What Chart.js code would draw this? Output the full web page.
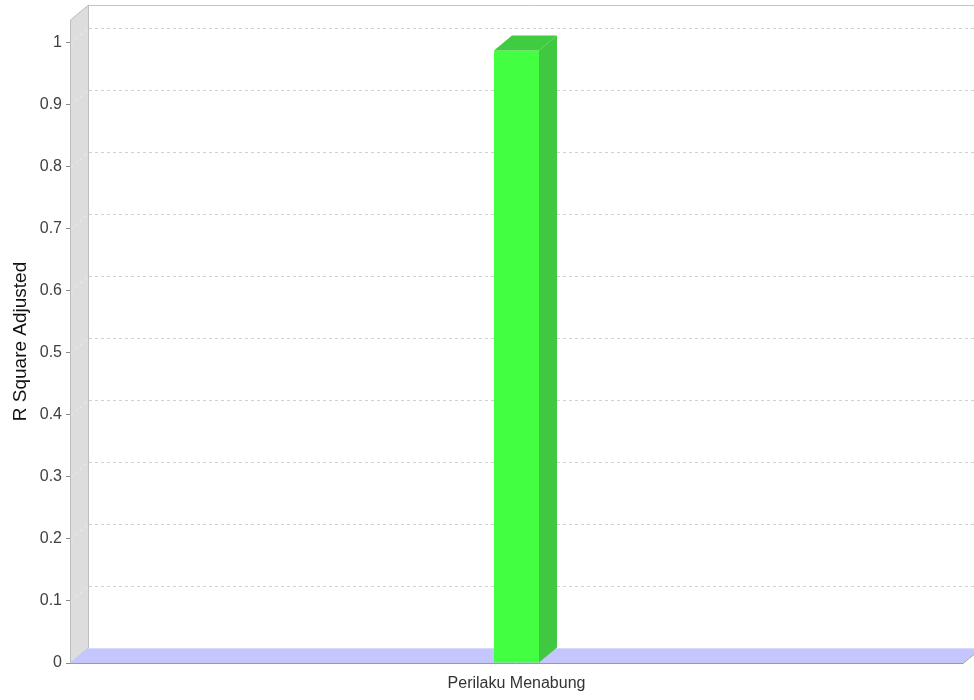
<!DOCTYPE html>
<html><head><meta charset="utf-8">
<script src="https://cdn.jsdelivr.net/npm/chart.js@4.4.1/dist/chart.umd.min.js"></script>
<style>html,body{margin:0;padding:0;background:#fff;}canvas{display:block;}</style>
</head><body>
<canvas id="c" width="974" height="700"></canvas>
<script>
const categories = ['Perilaku Menabung'];
const rSquareAdjusted = [0.988];
const yTickValues = [0, 0.1, 0.2, 0.3, 0.4, 0.5, 0.6, 0.7, 0.8, 0.9, 1];
const yTickLabels = ['0', '0.1', '0.2', '0.3', '0.4', '0.5', '0.6', '0.7', '0.8', '0.9', '1'];
const yAxisTitle = 'R Square Adjusted';

const DX = 18, DY = 15;

function poly(ctx, pts, fill, stroke) {
  ctx.beginPath();
  ctx.moveTo(pts[0][0], pts[0][1]);
  for (let i = 1; i < pts.length; i++) ctx.lineTo(pts[i][0], pts[i][1]);
  ctx.closePath();
  if (fill) { ctx.fillStyle = fill; ctx.fill(); }
  if (stroke) { ctx.strokeStyle = stroke; ctx.lineWidth = 1; ctx.stroke(); }
}

const plot3d = {
  id: 'plot3d',
  beforeDatasetsDraw(chart) {
    const ctx = chart.ctx;
    const {left, right, top, bottom} = chart.chartArea;
    const ys = chart.scales.y;
    ctx.save();
    // back wall outline
    ctx.strokeStyle = '#C4C4C4';
    ctx.lineWidth = 1;
    ctx.beginPath();
    ctx.moveTo(left + DX + 0.5, bottom - DY);
    ctx.lineTo(left + DX + 0.5, top - DY + 0.5);
    ctx.lineTo(right + DX + 20, top - DY + 0.5);
    ctx.stroke();
    // left wall
    poly(ctx, [[left + 0.5, top], [left + DX + 0.5, top - DY], [left + DX + 0.5, bottom - DY], [left + 0.5, bottom]], '#DDDDDD', '#BDBDBD');
    // gridlines
    ctx.setLineDash([3, 3]);
    yTickValues.forEach(v => {
      if (v === 0) return;
      const y = Math.round(ys.getPixelForValue(v)) + 0.5;
      ctx.strokeStyle = '#D2D2D2';
      ctx.beginPath();
      ctx.moveTo(left + DX + 1, y - DY);
      ctx.lineTo(right + DX + 20, y - DY);
      ctx.stroke();
      ctx.strokeStyle = '#EEEEEE';
      ctx.beginPath();
      ctx.moveTo(left + 1, y);
      ctx.lineTo(left + DX, y - DY);
      ctx.stroke();
    });
    ctx.setLineDash([]);
    // floor
    const b = ys.getPixelForValue(0);
    poly(ctx, [[left, b], [right, b], [right + DX, b - DY], [left + DX, b - DY]], '#C6C6FF', null);
    ctx.strokeStyle = '#9A9A9A';
    ctx.beginPath();
    ctx.moveTo(left, b + 0.5);
    ctx.lineTo(right, b + 0.5);
    ctx.lineTo(right + DX, b - DY + 0.5);
    ctx.stroke();
    ctx.strokeStyle = '#D8D8FF';
    ctx.beginPath();
    ctx.moveTo(left + DX, b - DY + 0.5);
    ctx.lineTo(right + DX + 20, b - DY + 0.5);
    ctx.stroke();
    ctx.restore();
  },
  afterDatasetsDraw(chart) {
    const ctx = chart.ctx;
    const meta = chart.getDatasetMeta(0);
    ctx.save();
    meta.data.forEach(bar => {
      const {x, y, width, base} = bar.getProps(['x', 'y', 'width', 'base'], true);
      const l = x - width / 2, r = x + width / 2;
      poly(ctx, [[l, y], [r, y], [r + DX, y - DY], [l + DX, y - DY]], '#40CC40', null);
      poly(ctx, [[r, y], [r + DX, y - DY], [r + DX, base - DY], [r, base]], '#40C840', null);
    });
    ctx.restore();
  }
};

new Chart(document.getElementById('c'), {
  type: 'bar',
  data: {
    labels: categories,
    datasets: [{
      data: rSquareAdjusted,
      backgroundColor: '#42FF42',
      borderWidth: 0,
      barPercentage: 45 / 893,
      categoryPercentage: 1
    }]
  },
  plugins: [plot3d],
  options: {
    responsive: false,
    animation: false,
    layout: {padding: {top: 20, right: 11, left: 0, bottom: 0}},
    plugins: {legend: {display: false}, tooltip: {enabled: false}},
    scales: {
      x: {
        grid: {display: false, drawTicks: false},
        border: {display: false},
        ticks: {font: {family: 'Liberation Sans', size: 16}, color: '#333333', padding: 11},
        afterFit(axis) { axis.height = 37; }
      },
      y: {
        min: 0,
        max: 1.037,
        afterBuildTicks(axis) { axis.ticks = yTickValues.map(v => ({value: v})); },
        ticks: {
          font: {family: 'Liberation Sans', size: 16},
          color: '#404040',
          padding: 4,
          callback: (value, index) => yTickLabels[index]
        },
        grid: {drawOnChartArea: false, drawTicks: true, tickLength: 4, color: '#888888'},
        border: {display: true, color: '#AAAAAA'},
        title: {
          display: true,
          text: yAxisTitle,
          font: {family: 'Liberation Sans', size: 19},
          color: '#111111',
          padding: {top: 9, bottom: 0}
        },
        afterFit(axis) { axis.width = 70; }
      }
    }
  }
});
</script>
</body></html>
